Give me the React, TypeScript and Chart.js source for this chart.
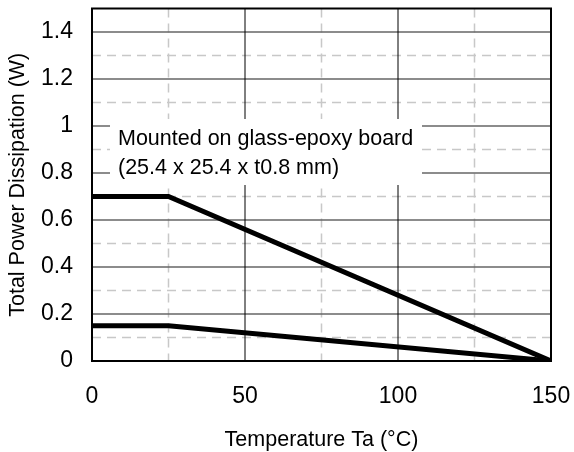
import React, { useEffect, useRef } from "react";
import { Chart, registerables } from "chart.js";

Chart.register(...registerables);

// ---- data ----
const temperature = [0, 25, 150];
const powerBoard = [0.7, 0.7, 0];
const powerFree = [0.15, 0.15, 0];

const xTicks = [0, 50, 100, 150];
const xTickLabels = ["0", "50", "100", "150"];
const xMinorGrid = [25, 75, 125];
const yTicks = [0, 0.2, 0.4, 0.6, 0.8, 1, 1.2, 1.4];
const yTickLabels = ["0", "0.2", "0.4", "0.6", "0.8", "1", "1.2", "1.4"];
const yMinorGrid = [0.1, 0.3, 0.5, 0.7, 0.9, 1.1, 1.3];

const xTitle = "Temperature Ta (\u00B0C)";
const yTitle = "Total Power Dissipation (W)";
const noteLines = ["Mounted on glass-epoxy board", "(25.4 x 25.4 x t0.8 mm)"];

const FONT = '"Liberation Sans", Arial, sans-serif';

const gridPlugin = {
  id: "customGrid",
  beforeDatasetsDraw(chart: any) {
    const { ctx, chartArea: a, scales } = chart;
    const xs = scales.x;
    const ys = scales.y;
    const hline = (y: number) => {
      ctx.beginPath();
      ctx.moveTo(a.left, y);
      ctx.lineTo(a.right, y);
      ctx.stroke();
    };
    const vline = (x: number) => {
      ctx.beginPath();
      ctx.moveTo(x, a.top);
      ctx.lineTo(x, a.bottom);
      ctx.stroke();
    };
    ctx.save();
    // minor dashed grid
    ctx.strokeStyle = "#c8c8c8";
    ctx.lineWidth = 1.5;
    ctx.setLineDash([9, 6]);
    yMinorGrid.forEach((v) => hline(ys.getPixelForValue(v)));
    xMinorGrid.forEach((v) => vline(xs.getPixelForValue(v)));
    ctx.setLineDash([]);
    // major horizontal grid
    ctx.strokeStyle = "#666";
    ctx.lineWidth = 1.6;
    yTicks.forEach((v) => {
      if (v > ys.min && v < ys.max) hline(ys.getPixelForValue(v));
    });
    // major vertical grid
    ctx.strokeStyle = "#000";
    ctx.lineWidth = 1;
    xTicks.forEach((v) => {
      if (v > xs.min && v < xs.max) vline(xs.getPixelForValue(v));
    });
    // note box
    const bx = a.left + 18;
    const by = a.top + 110.5;
    ctx.fillStyle = "#fff";
    ctx.fillRect(bx, by, 312, 66);
    ctx.fillStyle = "#000";
    ctx.font = "21.5px " + FONT;
    ctx.textBaseline = "alphabetic";
    ctx.textAlign = "left";
    noteLines.forEach((t, i) => ctx.fillText(t, a.left + 26, a.top + 136.5 + i * 29));
    ctx.restore();
  },
  afterDatasetsDraw(chart: any) {
    const { ctx, chartArea: a } = chart;
    ctx.save();
    ctx.strokeStyle = "#000";
    ctx.lineWidth = 2;
    ctx.strokeRect(a.left, a.top, a.right - a.left, a.bottom - a.top);
    ctx.restore();
  },
};

export default function App() {
  const ref = useRef<HTMLCanvasElement | null>(null);

  useEffect(() => {
    if (!ref.current) return;
    const chart = new Chart(ref.current, {
      type: "line",
      data: {
        datasets: [
          {
            data: temperature.map((t, i) => ({ x: t, y: powerBoard[i] })),
            borderColor: "#000",
            borderWidth: 5,
            pointRadius: 0,
            tension: 0,
            fill: false,
          },
          {
            data: temperature.map((t, i) => ({ x: t, y: powerFree[i] })),
            borderColor: "#000",
            borderWidth: 5,
            pointRadius: 0,
            tension: 0,
            fill: false,
          },
        ],
      },
      options: {
        animation: false,
        responsive: false,
        devicePixelRatio: 1,
        layout: { padding: { left: 0, right: 23, top: 8.5, bottom: 0 } },
        plugins: {
          legend: { display: false },
          tooltip: { enabled: false },
        },
        scales: {
          x: {
            type: "linear",
            min: 0,
            max: 150,
            afterBuildTicks: (s: any) => {
              s.ticks = xTicks.map((v) => ({ value: v }));
            },
            afterFit: (s: any) => {
              s.height = 91;
              s.paddingLeft = 0;
              s.paddingRight = 0;
            },
            grid: { display: false, drawTicks: false },
            border: { display: false },
            ticks: {
              padding: 21.5,
              color: "#000",
              maxRotation: 0,
              autoSkip: false,
              font: { family: FONT, size: 23, lineHeight: 1.2 },
              callback: (v: any) => {
                const i = xTicks.indexOf(Number(v));
                return i >= 0 ? xTickLabels[i] : "";
              },
            },
            title: {
              display: true,
              text: xTitle,
              color: "#000",
              font: { family: FONT, size: 21.5, lineHeight: 1 },
              padding: { top: 0, bottom: 1 },
            },
          },
          y: {
            type: "linear",
            min: 0,
            max: 1.5,
            afterBuildTicks: (s: any) => {
              s.ticks = yTicks.map((v) => ({ value: v }));
            },
            afterFit: (s: any) => {
              s.width = 92;
              s.paddingTop = 0;
              s.paddingBottom = 0;
            },
            grid: { display: false, drawTicks: false },
            border: { display: false },
            ticks: {
              padding: 19,
              color: "#000",
              autoSkip: false,
              font: { family: FONT, size: 23, lineHeight: 1.2 },
              callback: (v: any) => {
                const i = yTicks.findIndex((t) => Math.abs(t - Number(v)) < 1e-9);
                return i >= 0 ? yTickLabels[i] : "";
              },
            },
            title: {
              display: true,
              text: yTitle,
              color: "#000",
              font: { family: FONT, size: 21.5, lineHeight: 1 },
              padding: { top: 7, bottom: 0 },
            },
          },
        },
      },
      plugins: [gridPlugin],
    } as any);
    return () => chart.destroy();
  }, []);

  return (
    <div style={{ position: "fixed", left: 0, top: 0, width: 574, height: 452, background: "#fff" }}>
      <canvas ref={ref} width={574} height={452} style={{ display: "block", width: 574, height: 452 }} />
    </div>
  );
}
